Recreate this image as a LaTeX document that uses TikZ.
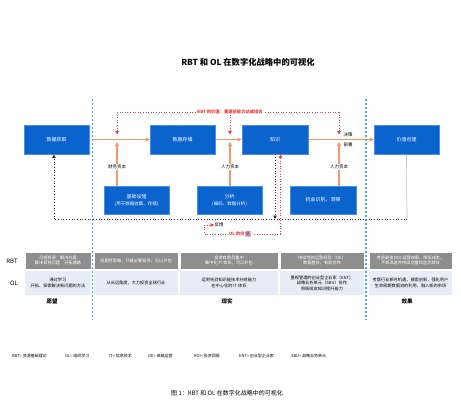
\documentclass[tikz,border=0pt]{standalone}
\usepackage{fontspec}
\setmainfont{Noto Sans CJK SC}
\usetikzlibrary{arrows.meta}
\definecolor{boxblue}{HTML}{0B63CE}
\definecolor{boxedge}{HTML}{4A8FE8}
\definecolor{aorange}{HTML}{F4976C}
\definecolor{rred}{HTML}{EE3B3B}
\definecolor{hgray}{HTML}{8E8E8E}
\definecolor{olrow}{HTML}{E6EDF7}
\definecolor{cyanl}{HTML}{3CB4D8}
\definecolor{hlblue}{HTML}{A9C8EA}
\tikzset{
  bluebox/.style={draw=boxedge, fill=boxblue, text=white, line width=0.8pt,
    minimum width=65pt, minimum height=29pt, align=center, inner sep=1pt,
    font=\fontsize{5}{7}\selectfont},
  oarrow/.style={draw=aorange, line width=1.1pt, -{Triangle[length=4pt,width=4pt]}},
  rdot/.style={draw=rred, line width=0.6pt, dotted},
  rarrow/.style={rdot, -{Triangle[length=3.5pt,width=3.5pt]}},
  kdot/.style={draw=black!80, line width=0.7pt, dotted},
  karrow/.style={kdot, -{Triangle[length=3.5pt,width=3.5pt]}},
  cdash/.style={draw=cyanl, line width=1.1pt, dash pattern=on 2pt off 2pt},
  alabel/.style={fill=white, inner sep=0.8pt, font=\fontsize{4.5}{5.5}\selectfont},
  hcell/.style={draw=white, line width=0.5pt, fill=hgray, text=white, align=center, inner sep=0pt,
    font=\fontsize{4.2}{5.6}\selectfont},
  ocell/.style={fill=olrow, text=black, align=center, inner sep=0pt,
    font=\fontsize{4.2}{5.6}\selectfont},
  rowlab/.style={font=\fontsize{6}{7}\selectfont},
  botlab/.style={font=\fontsize{5.5}{6.5}\selectfont\bfseries},
  leg/.style={anchor=west, font=\fontsize{4}{5}\selectfont, inner sep=0pt}
}
\begin{document}
\begin{tikzpicture}[x=1pt,y=-1pt]
\useasboundingbox[fill=white] (0,0) rectangle (461,415);

% title
\node[font=\fontsize{8.3}{9}\selectfont\bfseries] (title) at (248,62) {RBT 和 OL 在数字化战略中的可视化};

% cyan dashed separators
\draw[cdash] (92.5,99) -- (92.5,320);
\draw[cdash] (366,99) -- (366,320);

% main boxes
\node[bluebox] (acq) at (56.5,139.5) {数据获取};
\node[bluebox] (store) at (182.5,139.5) {数据存储};
\node[bluebox, minimum width=66pt] (know) at (275,139.5) {知识};
\node[bluebox] (value) at (406.5,139.5) {价值创建};

\node[bluebox, minimum height=28pt] (infra) at (136.5,200) {基础设施\\{\fontsize{4.5}{6}\selectfont (用于数据收集、存储)}};
\node[bluebox, minimum height=28pt] (anal) at (229.5,200) {分析\\{\fontsize{4.5}{6}\selectfont (编码、数据分析)}};
\node[bluebox, minimum height=28pt, minimum width=66pt] (opp) at (323,200) {机会识别、洞察};

% coordinates
\coordinate (c1) at (117,142);
\coordinate (c2) at (230,142);
\coordinate (c3) at (339,142);
\coordinate (r1) at (117,112);
\coordinate (r2) at (230,112);
\coordinate (r3) at (339,112);
\coordinate (r1e) at (117,134.5);
\coordinate (r2e) at (230,134.5);
\coordinate (r3e) at (339,134.5);

% orange main flow
\draw[oarrow] ([xshift=3pt]acq.east) -- (store.west);
\draw[oarrow] ([xshift=1pt]store.east) -- (know.west);
\draw[oarrow] ([xshift=1pt]know.east) -- (value.west);

% orange vertical inputs
\draw[oarrow] (infra.north -| c1) -- (c1);
\draw[oarrow] (anal.north -| c2) -- (c2);
\draw[oarrow] (opp.north -| c3) -- (c3);
\node[alabel] (l1) at (117,167) {财务资本};
\node[alabel] (l2) at (230,167) {人力资本};
\node[alabel] (l3) at (339,167) {人力资本};
\node[font=\fontsize{4.5}{5.5}\selectfont, inner sep=0pt] (l4) at (348,135) {决策};
\node[font=\fontsize{4.5}{5.5}\selectfont, inner sep=0pt] (l5) at (348,144.5) {部署};

% red dotted RBT value
\draw[rdot] (r1) -- (r3);
\draw[rarrow] (r1) -- (r1e);
\draw[rarrow] (r2) -- (r2e);
\draw[rarrow] (r3) -- (r3e);
\node[fill=white, text=rred, inner sep=1pt, font=\fontsize{4.3}{5}\selectfont\bfseries] (rbtv) at (230,112) {RBT 的价值：重建前能力达成组合};

% black dotted feedback loop
\coordinate (k1) at (407,219);
\coordinate (k2) at (54,219);
\coordinate (k3) at (275,219);
\draw[kdot, draw=black!45, dash pattern=on 1pt off 1pt] (value.south) -- (k1);
\draw[kdot] (k1) -- (k2);
\draw[karrow] (k2) -- (acq.south -| k2);
\draw[karrow] (know.south -| k3) -- (k3);

% red dotted OL value
\coordinate (o1) at (280.5,234);
\coordinate (o2) at (204,234);
\coordinate (o3) at (204,225);
\coordinate (o4) at (214,225);
\draw[rarrow] (o1) -- (know.south -| o1);
\draw[rdot] (o1) -- (o2) -- (o3);
\draw[rarrow] (o3) -- (o4);
\node[anchor=west, inner sep=0.5pt, font=\fontsize{4.5}{5.5}\selectfont] (fb) at (o4) {反馈};
\node[fill=white, text=rred, inner sep=1pt, font=\fontsize{4.3}{5}\selectfont\bfseries] (olv) at (240,234) {OL 的价{\setlength\fboxsep{1pt}\colorbox{hlblue}{值}}};

% table row labels
\node[rowlab] (rbtlab) at (12,261) {RBT};
\node[rowlab] (ollab) at (14,283) {OL};

% header cells
\node[hcell, minimum width=66pt, minimum height=17pt] (h1) at (58,260.5) {可感资源：解决方案\\解决目前问题：开拓通路};
\node[hcell, minimum width=84pt, minimum height=17pt] (h2) at (136,260.5) {短期性思维，只做必要投资，可以外包};
\node[hcell, minimum width=98pt, minimum height=17pt] (h3) at (229,260.5) {投资有限且集中\\集中化 IT 体系，可以外包};
\node[hcell, minimum width=84pt, minimum height=17pt] (h4) at (322,260.5) {持续性的运营经验（OE）\\数据整合，有助合作};
\node[hcell, minimum width=83pt, minimum height=17pt] (h5) at (410.5,260.5) {考虑最佳 ROI 运营效果，降低成本，\\不断改进并持续测量和监测其效};

% OL cells
\node[ocell, minimum width=66pt, minimum height=24pt] (o1c) at (58,283) {通过学习\\开拓、探索解决新问题的方法};
\node[ocell, minimum width=84pt, minimum height=24pt] (o2c) at (136,283) {从长远角度，大力投资全球行业};
\node[ocell, minimum width=98pt, minimum height=24pt] (o3c) at (229,283) {运用先验知识能技术补给能力\\在中心化的 IT 体系};
\node[ocell, minimum width=84pt, minimum height=24pt] (o4c) at (322,283) {重视管理的创业型企业家（ENT）\\战略业务单元（SBU）协作\\积极吸收知识提升能力};
\node[ocell, minimum width=83pt, minimum height=24pt] (o5c) at (410.5,283) {考察行业新时机遇，搜索创新，强化用户\\生命周期数据流的利用，融入新的市场};

% bottom labels
\node[botlab] (b1) at (52,301) {愿望};
\node[botlab] (b2) at (227,301) {现实};
\node[botlab] (b3) at (407,301) {效果};

% legend
\node[leg] (g1) at (12,356) {RBT= 资源基础理论};
\node[leg] (g2) at (65,356) {OL= 组织学习};
\node[leg] (g3) at (109,356) {IT= 信息技术};
\node[leg] (g4) at (148,356) {OE= 卓越运营};
\node[leg] (g5) at (194,356) {ROI= 投资回报};
\node[leg] (g6) at (239,356) {ENT= 创业型企业家};
\node[leg] (g7) at (291,356) {SBU= 战略业务单元};

% caption
\node[font=\fontsize{6}{7}\selectfont] (cap) at (227,393) {图 1：RBT 和 OL 在数字化战略中的可视化};
\end{tikzpicture}
\end{document}
